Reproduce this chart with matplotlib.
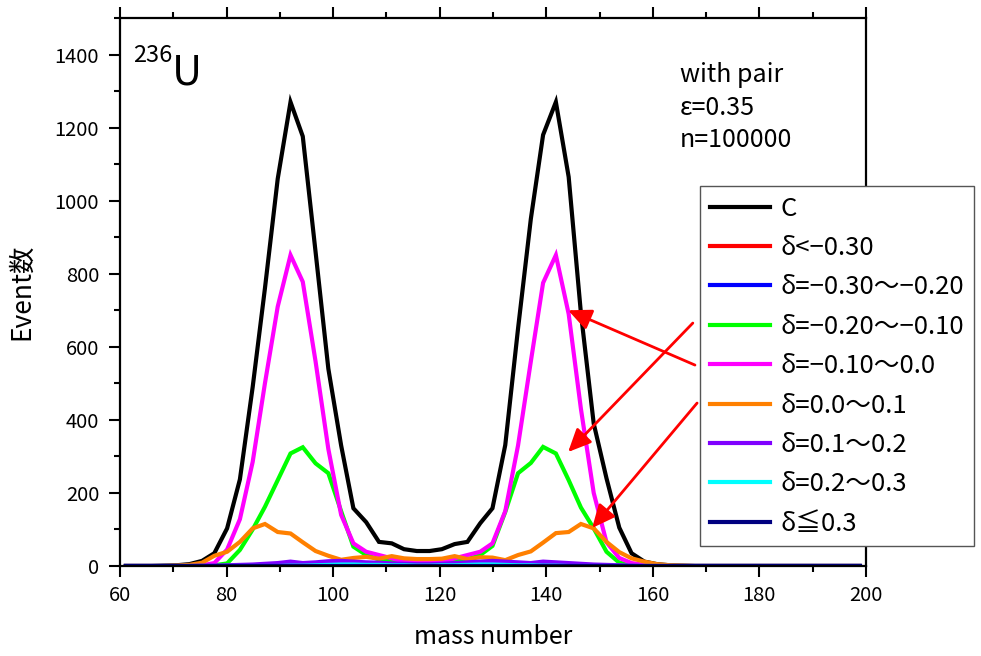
import matplotlib
matplotlib.use('Agg')
import matplotlib.pyplot as plt
from matplotlib.ticker import MultipleLocator

plt.rcParams['font.family'] = ['Noto Sans CJK JP', 'DejaVu Sans']

mass = [61.1, 63.5, 65.9, 68.2, 70.6, 73.0, 75.4, 77.7, 80.1, 82.5,
        84.9, 87.2, 89.6, 92.0, 94.3, 96.7, 99.1, 101.5, 103.8, 106.2,
        108.6, 111.0, 113.3, 115.7, 118.1, 120.4, 122.8, 125.2, 127.6, 129.9,
        132.3, 134.7, 137.1, 139.4, 141.8, 144.2, 146.5, 148.9, 151.3, 153.7,
        156.0, 158.4, 160.8, 163.2, 165.5, 167.9, 170.3, 172.6, 175.0, 177.4,
        179.8, 182.1, 184.5, 186.9, 189.3, 191.6, 194.0, 196.4, 198.8]

c_total = [0, 0, 0, 1, 2, 5, 14, 35, 103, 237,
           490, 760, 1060, 1270, 1176, 860, 540, 330, 158, 120,
           66, 62, 46, 41, 41, 46, 60, 66, 117, 158,
           331, 650, 950, 1180, 1270, 1065, 692, 390, 240, 105,
           35, 12, 5, 2, 1, 0, 0, 0, 0, 0,
           0, 0, 0, 0, 0, 0, 0, 0, 0]
d_lt_m030 = [0, 0, 0, 0, 0, 0, 0, 0, 0, 0,
             0, 0, 1, 1, 1, 0, 0, 0, 0, 0,
             0, 0, 0, 0, 0, 0, 0, 0, 0, 0,
             0, 0, 0, 1, 1, 0, 0, 0, 0, 0,
             0, 0, 0, 0, 0, 0, 0, 0, 0, 0,
             0, 0, 0, 0, 0, 0, 0, 0, 0]
d_m030_m020 = [0, 0, 0, 0, 0, 0, 0, 0, 0, 0,
               1, 1, 2, 2, 2, 2, 1, 1, 0, 0,
               0, 0, 0, 0, 0, 0, 0, 0, 0, 0,
               1, 1, 2, 2, 2, 2, 1, 0, 0, 0,
               0, 0, 0, 0, 0, 0, 0, 0, 0, 0,
               0, 0, 0, 0, 0, 0, 0, 0, 0]
d_m020_m010 = [0, 0, 0, 0, 0, 0, 0, 2, 7, 44,
               100, 162, 235, 308, 325, 281, 254, 150, 53, 30,
               18, 12, 8, 6, 6, 8, 12, 18, 30, 55,
               148, 254, 282, 326, 308, 235, 160, 103, 39, 9,
               3, 1, 0, 0, 0, 0, 0, 0, 0, 0,
               0, 0, 0, 0, 0, 0, 0, 0, 0]
d_m010_00 = [0, 0, 0, 0, 0, 0, 2, 8, 45, 128,
             285, 500, 710, 851, 778, 560, 320, 140, 62, 39,
             30, 21, 12, 10, 10, 12, 21, 30, 39, 62,
             150, 330, 560, 775, 851, 690, 430, 200, 65, 22,
             8, 3, 1, 0, 0, 0, 0, 0, 0, 0,
             0, 0, 0, 0, 0, 0, 0, 0, 0]
d_00_01 = [0, 0, 0, 0, 1, 3, 9, 28, 39, 66,
           103, 115, 93, 89, 65, 41, 28, 17, 22, 25,
           20, 27, 21, 19, 19, 20, 27, 19, 24, 23,
           16, 30, 40, 64, 90, 93, 115, 103, 66, 38,
           21, 12, 5, 2, 1, 0, 0, 0, 0, 0,
           0, 0, 0, 0, 0, 0, 0, 0, 0]
d_01_02 = [0, 0, 0, 0, 0, 0, 1, 1, 2, 3,
           4, 6, 8, 12, 8, 10, 13, 14, 12, 10,
           9, 7, 6, 5, 5, 6, 8, 10, 12, 14,
           12, 10, 8, 12, 10, 8, 6, 4, 3, 2,
           1, 0, 0, 0, 0, 0, 0, 0, 0, 0,
           0, 0, 0, 0, 0, 0, 0, 0, 0]
d_02_03 = [0, 0, 0, 0, 0, 0, 0, 0, 0, 0,
           0, 0, 0, 1, 1, 2, 3, 4, 4, 3,
           3, 2, 2, 1, 1, 2, 2, 3, 4, 4,
           3, 2, 2, 1, 1, 0, 0, 0, 0, 0,
           0, 0, 0, 0, 0, 0, 0, 0, 0, 0,
           0, 0, 0, 0, 0, 0, 0, 0, 0]
d_ge_03 = [0] * len(mass)

labels = ['C', 'δ<−0.30', 'δ=−0.30〜−0.20', 'δ=−0.20〜−0.10', 'δ=−0.10〜0.0',
          'δ=0.0〜0.1', 'δ=0.1〜0.2', 'δ=0.2〜0.3', 'δ≦0.3']
colors = ['#000000', '#FF0000', '#0000FF', '#00FF00', '#FF00FF',
          '#FF8000', '#8000FF', '#00FFFF', '#000080']
series = [c_total, d_lt_m030, d_m030_m020, d_m020_m010, d_m010_00,
          d_00_01, d_01_02, d_02_03, d_ge_03]

fig = plt.figure(figsize=(9.81, 6.56), dpi=100)
ax = fig.add_axes([120/981, 1-566/656, 746/981, 548/656])

for ys, lab, col in zip(series, labels, colors):
    ax.plot(mass, ys, color=col, lw=3.0, label=lab, solid_joinstyle='miter')

ax.set_xlim(60, 200)
ax.set_ylim(0, 1500)
ax.xaxis.set_major_locator(MultipleLocator(20))
ax.xaxis.set_minor_locator(MultipleLocator(10))
ax.yaxis.set_major_locator(MultipleLocator(200))
ax.yaxis.set_minor_locator(MultipleLocator(100))
ax.set_yticks([0, 200, 400, 600, 800, 1000, 1200, 1400])
for s in ax.spines.values():
    s.set_linewidth(1.6)
ax.tick_params(which='both', direction='out', top=True, right=False, width=1.5)
ax.tick_params(which='major', length=8, labelsize=14.5, pad=6)
ax.tick_params(which='minor', length=4.5)
ax.tick_params(axis='y', which='major', pad=7)

ax.set_xlabel('mass number', fontsize=18, labelpad=13)
ax.set_ylabel('Event数', fontsize=19, labelpad=14)

ax.text(0.017, 0.92, '236', transform=ax.transAxes, fontsize=17, va='baseline', ha='left')
ax.text(0.069, 0.878, 'U', transform=ax.transAxes, fontsize=30, va='baseline', ha='left')

ax.text(0.751, 0.883, 'with pair', transform=ax.transAxes, fontsize=18, va='baseline')
ax.text(0.751, 0.823, 'ε=0.35', transform=ax.transAxes, fontsize=18, va='baseline')
ax.text(0.751, 0.765, 'n=100000', transform=ax.transAxes, fontsize=18, va='baseline')

arrow_kw = dict(arrowstyle='-|>,head_length=0.7,head_width=0.32', color='#FF0000',
                lw=2.0, mutation_scale=20, shrinkA=0, shrinkB=0)
ax.annotate('', xy=(144.1, 700), xytext=(167.9, 550), arrowprops=arrow_kw)
ax.annotate('', xy=(144.1, 312), xytext=(167.5, 665), arrowprops=arrow_kw)
ax.annotate('', xy=(148.6, 104), xytext=(168.3, 446), arrowprops=arrow_kw)

leg = ax.legend(loc='upper left', bbox_to_anchor=(700/981, 1-186/656),
                bbox_transform=fig.transFigure, fontsize=18.5, frameon=True,
                fancybox=False, framealpha=1, edgecolor='#555555',
                handlelength=2.35, handletextpad=0.4, labelspacing=0.52,
                borderpad=0.38, borderaxespad=0)
leg.get_frame().set_linewidth(1.0)
leg.set_zorder(10)
for line in leg.get_lines():
    line.set_linewidth(3.0)

fig.savefig('out.png', dpi=100)
